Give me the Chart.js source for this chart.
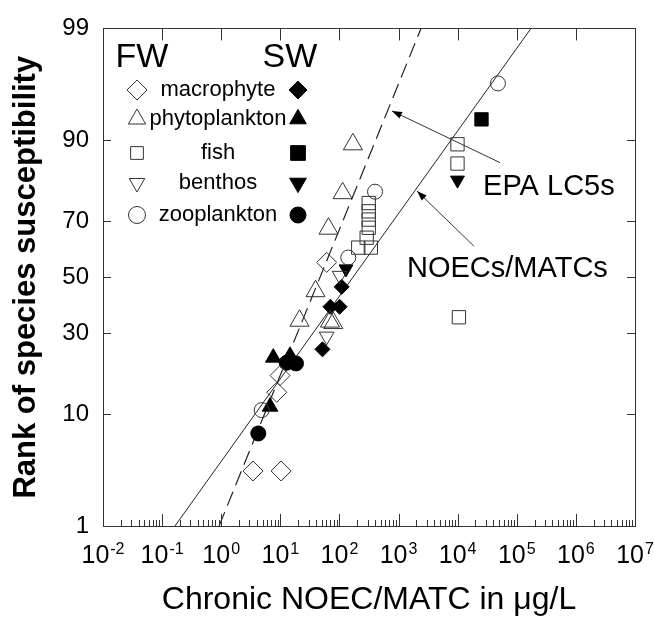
<!DOCTYPE html>
<html><head><meta charset="utf-8">
<script src="https://cdn.jsdelivr.net/npm/chart.js@4/dist/chart.umd.min.js"></script>
<style>html,body{margin:0;padding:0;background:#fff}#wrap{width:654px;height:626px}</style>
</head><body><div id="wrap"><canvas id="c" width="654" height="626"></canvas></div>
<script>
// ---------------- data ----------------
const groups = ['macrophyte', 'phytoplankton', 'fish', 'benthos', 'zooplankton'];
const habitats = ['FW', 'SW'];
const xTitle = 'Chronic NOEC/MATC in \u03BCg/L';
const yTitle = 'Rank of species susceptibility';
const xExponents = [-2, -1, 0, 1, 2, 3, 4, 5, 6, 7];
const yTickValues = [1, 10, 30, 50, 70, 90, 99];

// freshwater (open symbols): x = chronic NOEC/MATC (ug/L), y = rank (%)
const fwMacrophyteX = [60.8, 9.9, 8.7, 3.45, 10.3];
const fwMacrophyteY = [55.5, 17.9, 14.1, 3.5, 3.5];
const fwPhytoX = [169, 113, 65.3, 39.4, 21.1, 69.2, 78.7];
const fwPhytoY = [89.3, 78.4, 67.5, 44.8, 34.2, 33.9, 33.4];
const fwFishX = [313, 313, 313, 313, 289, 208, 340, 9930, 9930, 10500];
const fwFishY = [75.6, 73.1, 70.5, 67.8, 64.4, 60.9, 60.9, 89.3, 85.6, 35.4];
const fwBenthosX = [100.7, 60.8];
const fwBenthosY = [50.6, 29.0];
const fwZooX = [141, 400, 48000, 4.84];
const fwZooY = [57.3, 78.8, 96.5, 10.7];

// saltwater (filled symbols)
const swMacrophyteX = [109, 70.3, 100.7, 51.6];
const swMacrophyteY = [46.4, 39.1, 39.1, 25.0];
const swPhytoX = [7.6, 14.6, 6.7];
const swPhytoY = [22.6, 23.1, 11.3];
const swFishX = [25300];
const swFishY = [93.0];
const swBenthosX = [129, 9930];
const swBenthosY = [53.1, 81.8];
const swZooX = [12.8, 18.4, 4.24];
const swZooY = [21.2, 21.0, 7.2];

// fitted distributions (end points at 1 % and 99 %)
const noecLineX = [0.165, 174000];
const noecLineY = [1, 99];
const lc5LineX = [0.92, 2400];
const lc5LineY = [1, 99];

// annotation labels
const annotationTexts = ['EPA LC5s', 'NOECs/MATCs'];

// ---------------- probability (probit) scale ----------------
function probit(p) {
  const a=[-3.969683028665376e+01,2.209460984245205e+02,-2.759285104469687e+02,1.383577518672690e+02,-3.066479806614716e+01,2.506628277459239e+00];
  const b=[-5.447609879822406e+01,1.615858368580409e+02,-1.556989798598866e+02,6.680131188771972e+01,-1.328068155288572e+01];
  const c=[-7.784894002430293e-03,-3.223964580411365e-01,-2.400758277161838e+00,-2.549732539343734e+00,4.374664141464968e+00,2.938163982698783e+00];
  const d=[7.784695709041462e-03,3.224671290700398e-01,2.445134137142996e+00,3.754408661907416e+00];
  const pl = 0.02425, ph = 1 - pl; let q, r;
  if (p < pl) { q = Math.sqrt(-2*Math.log(p)); return (((((c[0]*q+c[1])*q+c[2])*q+c[3])*q+c[4])*q+c[5])/((((d[0]*q+d[1])*q+d[2])*q+d[3])*q+1); }
  if (p <= ph) { q = p-0.5; r = q*q; return (((((a[0]*r+a[1])*r+a[2])*r+a[3])*r+a[4])*r+a[5])*q/(((((b[0]*r+b[1])*r+b[2])*r+b[3])*r+b[4])*r+1); }
  q = Math.sqrt(-2*Math.log(1-p)); return -(((((c[0]*q+c[1])*q+c[2])*q+c[3])*q+c[4])*q+c[5])/((((d[0]*q+d[1])*q+d[2])*q+d[3])*q+1);
}
function normCdf(z) {
  const t = 1/(1+0.2316419*Math.abs(z));
  const y = 0.3989423*Math.exp(-z*z/2)*t*(0.3193815+t*(-0.3565638+t*(1.781478+t*(-1.821256+t*1.330274))));
  return z > 0 ? 1 - y : y;
}
class ProbitScale extends Chart.LinearScale {
  static id = 'probit';
  static defaults = Chart.LinearScale.defaults;
  determineDataLimits() { this.min = this.options.min; this.max = this.options.max; }
  buildTicks() { return yTickValues.map(v => ({ value: v })); }
  configure() {
    super.configure();
    this._zmin = probit(this.min / 100);
    this._zmax = probit(this.max / 100);
  }
  getPixelForValue(v) {
    const z = probit(v / 100);
    return this.getPixelForDecimal((z - this._zmin) / (this._zmax - this._zmin));
  }
  getValueForPixel(px) {
    const dec = this.getDecimalForPixel(px);
    return 100 * normCdf(this._zmin + dec * (this._zmax - this._zmin));
  }
}
Chart.register(ProbitScale);

// ---------------- styles ----------------
const FONT = '"Liberation Sans", Arial, Helvetica, sans-serif';
const groupStyle = {
  macrophyte:    { pointStyle: 'rectRot',  rotation: 0,   rOpen: 10,  rFilled: 7.5, lOpen: 10, lFilled: 9 },
  phytoplankton: { pointStyle: 'triangle', rotation: 0,   rOpen: 11,  rFilled: 9,   lOpen: 10, lFilled: 9.6 },
  fish:          { pointStyle: 'rect',     rotation: 0,   rOpen: 9.4, rFilled: 9.4, lOpen: 9,  lFilled: 10.4 },
  benthos:       { pointStyle: 'triangle', rotation: 180, rOpen: 8.5, rFilled: 8,   lOpen: 9,  lFilled: 9.6 },
  zooplankton:   { pointStyle: 'circle',   rotation: 0,   rOpen: 7.5, rFilled: 7.5, lOpen: 8.5, lFilled: 8 }
};
const seriesX = {
  FW: [fwMacrophyteX, fwPhytoX, fwFishX, fwBenthosX, fwZooX],
  SW: [swMacrophyteX, swPhytoX, swFishX, swBenthosX, swZooX]
};
const seriesY = {
  FW: [fwMacrophyteY, fwPhytoY, fwFishY, fwBenthosY, fwZooY],
  SW: [swMacrophyteY, swPhytoY, swFishY, swBenthosY, swZooY]
};
const pts = (xs, ys) => xs.map((x, i) => ({ x: x, y: ys[i] }));

const datasets = [];
habitats.forEach(h => {
  groups.forEach((g, gi) => {
    const st = groupStyle[g];
    const open = h === 'FW';
    datasets.push({
      label: h + ' ' + g,
      data: pts(seriesX[h][gi], seriesY[h][gi]),
      pointStyle: st.pointStyle,
      rotation: st.rotation,
      pointRadius: open ? st.rOpen : st.rFilled,
      pointBorderWidth: 1,
      pointBackgroundColor: open ? 'rgba(0,0,0,0)' : '#000',
      pointBorderColor: open ? '#333' : '#000',
      showLine: false
    });
  });
});
datasets.push({
  label: 'NOECs/MATCs fit', data: pts(noecLineX, noecLineY), showLine: true,
  borderColor: '#222', borderWidth: 1, pointRadius: 0, fill: false
});
datasets.push({
  label: 'EPA LC5s fit', data: pts(lc5LineX, lc5LineY), showLine: true,
  borderColor: '#222', borderWidth: 1.2, borderDash: [15, 7], pointRadius: 0, fill: false
});

// annotation placement (data coordinates)
const annotationLayout = [
  { tx: 26900, ty: 80.0, hx: 774, hy: 94.0, sx: 52000, sy: 85.8 },
  { tx: 1390, ty: 53.1, hx: 2050, hy: 79.0, sx: 18900, sy: 61.4 }
];

// ---------------- custom drawing plugin ----------------
const decorPlugin = {
  id: 'decor',
  afterDraw(chart) {
    const ctx = chart.ctx, a = chart.chartArea;
    const xs = chart.scales.x, ys = chart.scales.y;
    ctx.save();
    // frame
    ctx.strokeStyle = '#333'; ctx.lineWidth = 1;
    ctx.strokeRect(Math.round(a.left) + 0.5, Math.round(a.top) + 0.5, Math.round(a.right - a.left), Math.round(a.bottom - a.top));
    // y ticks (inward, both sides)
    ctx.beginPath();
    yTickValues.forEach(v => {
      const py = Math.round(ys.getPixelForValue(v)) + 0.5;
      ctx.moveTo(a.left, py); ctx.lineTo(a.left + 8, py);
      ctx.moveTo(a.right, py); ctx.lineTo(a.right - 8, py);
    });
    // x ticks: major top & bottom, minor bottom
    xExponents.forEach(e => {
      const px = Math.round(xs.getPixelForValue(Math.pow(10, e))) + 0.5;
      ctx.moveTo(px, a.bottom); ctx.lineTo(px, a.bottom - 12);
      ctx.moveTo(px, a.top); ctx.lineTo(px, a.top + 12);
      if (e < xExponents[xExponents.length - 1]) {
        for (let m = 2; m <= 9; m++) {
          const pm = Math.round(xs.getPixelForValue(m * Math.pow(10, e))) + 0.5;
          ctx.moveTo(pm, a.bottom); ctx.lineTo(pm, a.bottom - 6);
        }
      }
    });
    ctx.stroke();

    // x tick labels 10^n
    ctx.fillStyle = '#000';
    ctx.textBaseline = 'alphabetic';
    xExponents.forEach(e => {
      const px = xs.getPixelForValue(Math.pow(10, e));
      ctx.font = '25px ' + FONT;
      const w1 = ctx.measureText('10').width;
      ctx.font = '16px ' + FONT;
      const w2 = ctx.measureText(String(e)).width;
      const x0 = px - (w1 + w2 + 1) / 2;
      ctx.font = '25px ' + FONT; ctx.textAlign = 'left';
      ctx.fillText('10', x0, a.bottom + 37);
      ctx.font = '16px ' + FONT;
      ctx.fillText(String(e), x0 + w1 + 1, a.bottom + 28);
    });

    // legend
    const rowsY = [90, 119, 153, 183, 215];
    ctx.textAlign = 'center'; ctx.textBaseline = 'middle';
    ctx.font = '34px ' + FONT;
    ctx.fillText(habitats[0], 142, 58);
    ctx.fillText(habitats[1], 290, 58);
    ctx.font = '22px ' + FONT;
    groups.forEach((g, i) => {
      const st = groupStyle[g];
      ctx.fillStyle = '#000';
      ctx.fillText(g, 218, rowsY[i]);
      ctx.lineWidth = 1;
      ctx.strokeStyle = '#333'; ctx.fillStyle = 'rgba(0,0,0,0)';
      Chart.helpers.drawPoint(ctx, { pointStyle: st.pointStyle, rotation: st.rotation, radius: st.lOpen, borderWidth: 1 }, 137, rowsY[i]);
      ctx.strokeStyle = '#000'; ctx.fillStyle = '#000';
      Chart.helpers.drawPoint(ctx, { pointStyle: st.pointStyle, rotation: st.rotation, radius: st.lFilled, borderWidth: 1 }, 298, rowsY[i]);
    });

    // annotations with arrows
    annotationLayout.forEach((an, i) => {
      const hx = xs.getPixelForValue(an.hx), hy = ys.getPixelForValue(an.hy);
      const sx = xs.getPixelForValue(an.sx), sy = ys.getPixelForValue(an.sy);
      ctx.strokeStyle = '#333'; ctx.lineWidth = 1;
      ctx.beginPath(); ctx.moveTo(sx, sy); ctx.lineTo(hx, hy); ctx.stroke();
      const ang = Math.atan2(hy - sy, hx - sx), L = 10, W = 3.5;
      ctx.fillStyle = '#000';
      ctx.beginPath();
      ctx.moveTo(hx, hy);
      ctx.lineTo(hx - L*Math.cos(ang) + W*Math.sin(ang), hy - L*Math.sin(ang) - W*Math.cos(ang));
      ctx.lineTo(hx - L*Math.cos(ang) - W*Math.sin(ang), hy - L*Math.sin(ang) + W*Math.cos(ang));
      ctx.closePath(); ctx.fill();
      ctx.font = '29px ' + FONT; ctx.textAlign = 'left'; ctx.textBaseline = 'middle';
      ctx.fillText(annotationTexts[i], xs.getPixelForValue(an.tx), ys.getPixelForValue(an.ty));
    });
    ctx.restore();
  }
};

new Chart(document.getElementById('c'), {
  type: 'scatter',
  data: { datasets: datasets },
  plugins: [decorPlugin],
  options: {
    responsive: false, animation: false, events: [],
    layout: { padding: { left: 0, right: 19, top: 21, bottom: 0 } },
    plugins: { legend: { display: false }, tooltip: { enabled: false } },
    scales: {
      x: {
        type: 'logarithmic', min: Math.pow(10, xExponents[0]), max: Math.pow(10, xExponents[xExponents.length - 1]),
        position: 'bottom',
        grid: { display: false, drawTicks: false }, border: { display: false },
        ticks: { display: false },
        afterBuildTicks: s => { s.ticks = xExponents.map(e => ({ value: Math.pow(10, e) })); },
        afterFit: s => { s.height = 100; },
        title: { display: true, text: xTitle, color: '#000', font: { family: FONT, size: 32 }, padding: { top: 0, bottom: 7 } }
      },
      y: {
        type: 'probit', min: yTickValues[0], max: yTickValues[yTickValues.length - 1],
        position: 'left',
        grid: { display: false, drawTicks: false }, border: { display: false },
        ticks: { color: '#000', font: { family: FONT, size: 24 }, padding: 14, callback: v => String(v) },
        afterFit: s => { s.width = 103; },
        title: { display: true, text: yTitle, color: '#000', font: { family: FONT, size: 31, weight: 'bold' }, padding: { top: 8, bottom: 0 } }
      }
    }
  }
});
</script></body></html>
